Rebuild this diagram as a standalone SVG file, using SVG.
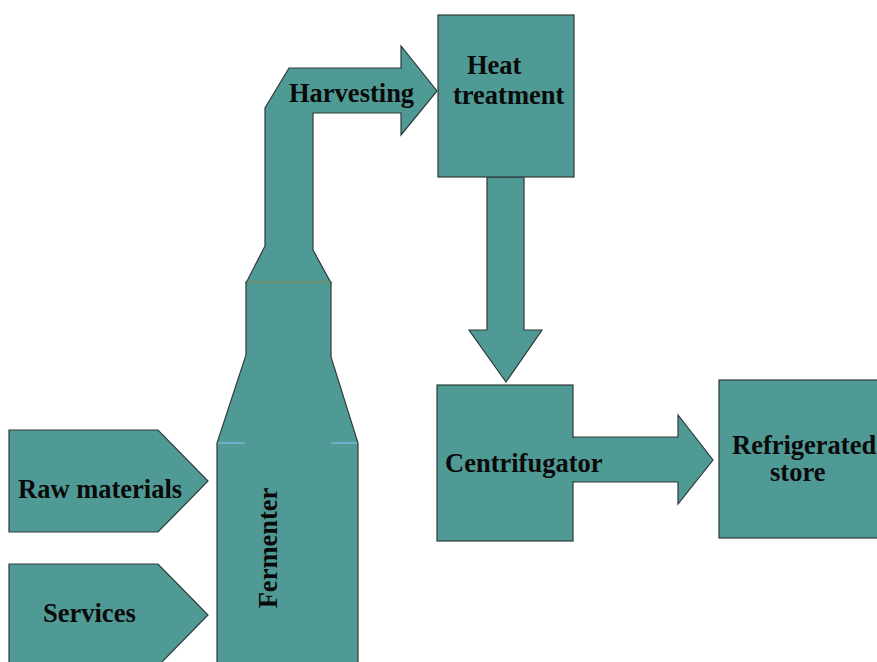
<svg xmlns="http://www.w3.org/2000/svg" width="877" height="662" viewBox="0 0 877 662">
<style>
.s{fill:#509a96;stroke:#2f3a3a;stroke-width:1.2;stroke-linejoin:miter}
.t{font-family:"Liberation Serif","Times New Roman",serif;font-weight:bold;font-size:26.5px;fill:#0a0a0a}
</style>
<rect width="877" height="662" fill="#ffffff"/>
<g id="connectors">
<path id="harvesting-arrow" class="s" d="M246,283 L265,246 L265,108 L289,68 L401,68 L401,46 L437,91 L401,135 L401,113 L313,113 L313,250 L331,283 Z"/>
<path id="heat-to-centrifugator" class="s" d="M487,177 L524,177 L524,330 L542,330 L506,382 L469,330 L487,330 Z"/>
<path id="centrifugator-to-store" class="s" d="M573,437 L678,437 L678,415 L713,460 L678,504 L678,482 L573,482 Z"/>
</g>
<g id="fermenter">
<path class="s" d="M246,282 L331,282 L331,357 L358,443 L358,670 L217,670 L217,443 L246,355 Z"/>
<line x1="247" y1="282" x2="330" y2="282" stroke="#9fb27a" stroke-width="1"/>
<line x1="218" y1="443" x2="245" y2="443" stroke="#7fb6d8" stroke-width="1.5"/>
<line x1="331" y1="443" x2="357" y2="443" stroke="#7fb6d8" stroke-width="1.5"/>
<text class="t" transform="translate(277,548) rotate(-90)" text-anchor="middle">Fermenter</text>
</g>
<g id="harvesting">
<text class="t" x="289" y="102">Harvesting</text>
</g>
<g id="heat-treatment">
<rect class="s" x="438" y="15" width="136" height="162"/>
<text class="t" x="467" y="74">Heat</text>
<text class="t" x="453" y="104">treatment</text>
</g>
<g id="centrifugator">
<rect class="s" x="437" y="385" width="136" height="156"/>
<rect x="572" y="438" width="4" height="43" fill="#509a96"/>
<text class="t" x="445" y="472">Centrifugator</text>
</g>
<g id="refrigerated-store">
<rect class="s" x="719" y="380" width="170" height="158"/>
<text class="t" x="732" y="454">Refrigerated</text>
<text class="t" x="770" y="481">store</text>
</g>
<g id="raw-materials">
<path class="s" d="M9,430 L158,430 L208,481 L158,532 L9,532 Z"/>
<text class="t" x="18" y="498">Raw materials</text>
</g>
<g id="services">
<path class="s" d="M9,564 L158,564 L208,615 L158,666 L9,666 Z"/>
<text class="t" x="43" y="622">Services</text>
</g>
</svg>
